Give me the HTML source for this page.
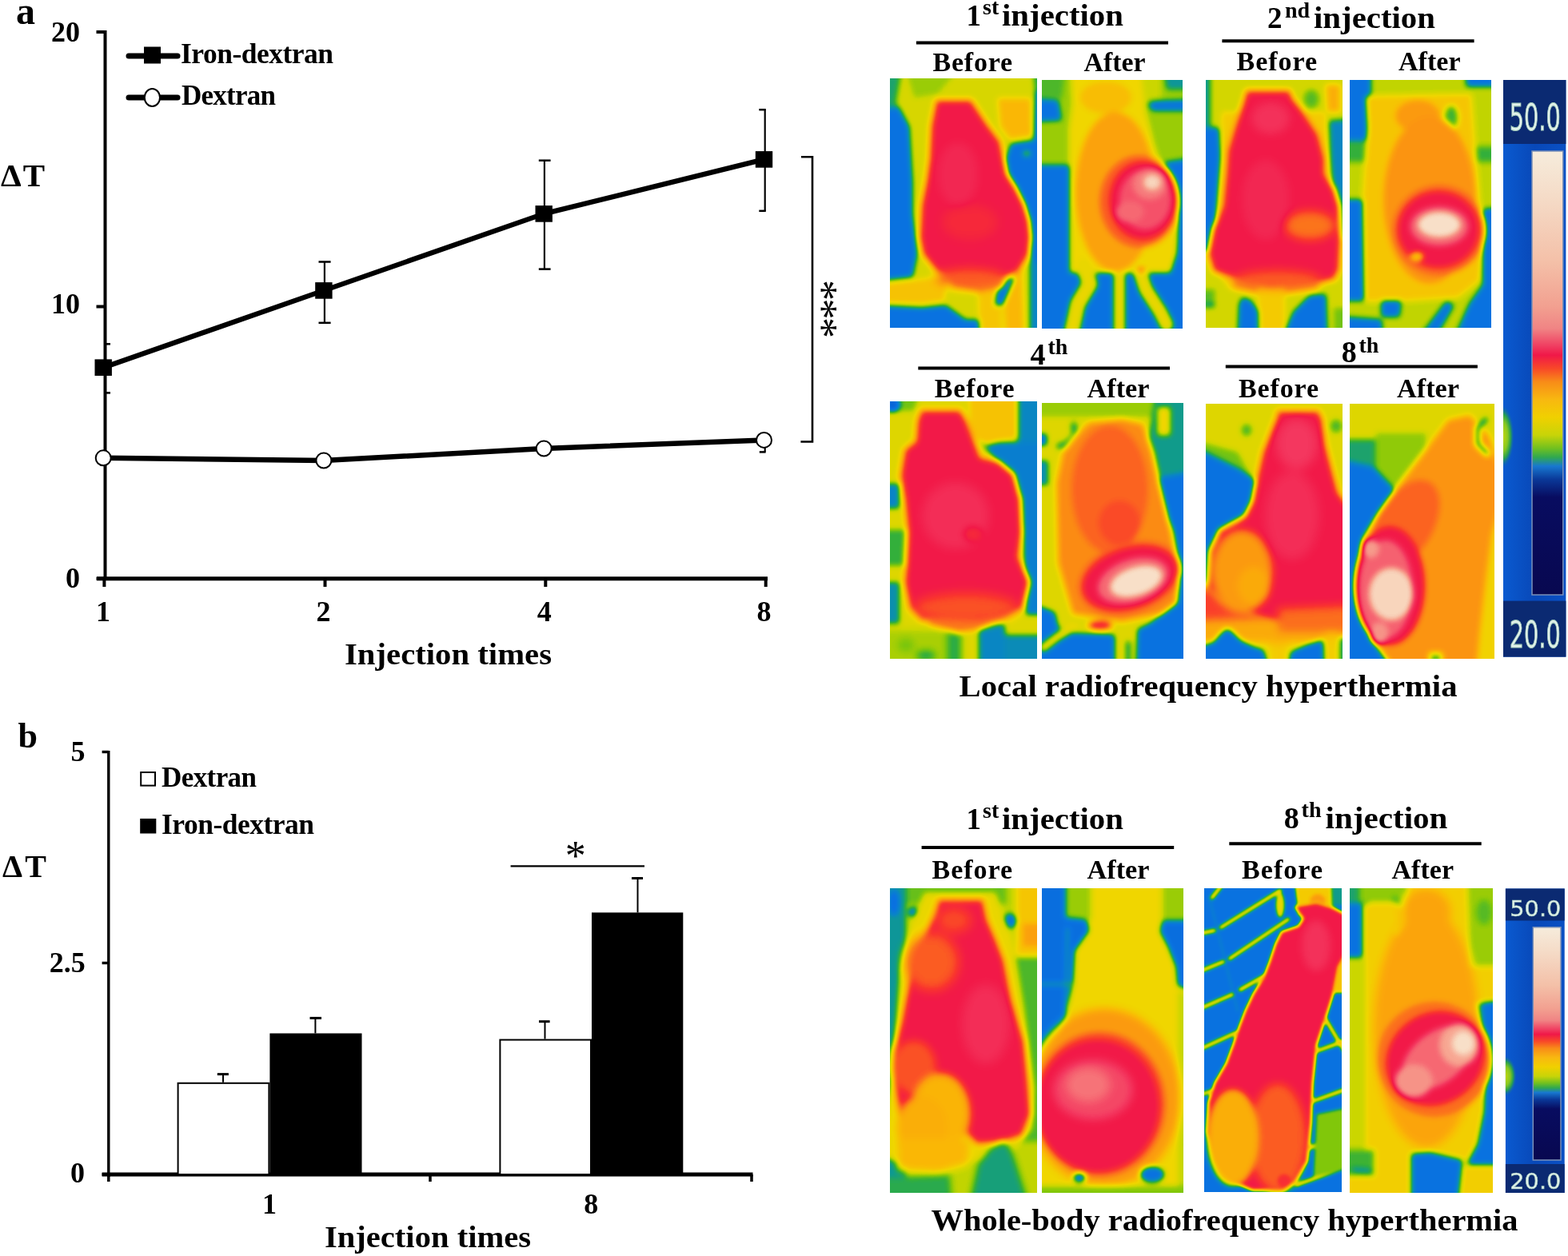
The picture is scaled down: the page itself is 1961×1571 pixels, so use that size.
<!DOCTYPE html>
<html><head><meta charset="utf-8"><title>Figure</title>
<style>html,body{margin:0;padding:0;background:#fff;overflow:hidden;} svg{display:block;}</style></head>
<body>
<svg width="1961" height="1571" viewBox="0 0 1961 1571">
<rect width="1961" height="1571" fill="#fff"/>
<text x="20" y="29.5" font-size="48" font-weight="bold" font-family="'Liberation Serif', serif" fill="#000">a</text>
<line x1="131.5" y1="38" x2="131.5" y2="726" stroke="#000" stroke-width="4" stroke-linecap="butt"/>
<line x1="120.5" y1="40" x2="131.5" y2="40" stroke="#000" stroke-width="4" stroke-linecap="butt"/>
<line x1="120.5" y1="383.5" x2="131.5" y2="383.5" stroke="#000" stroke-width="4" stroke-linecap="butt"/>
<line x1="120.5" y1="723.7" x2="131.5" y2="723.7" stroke="#000" stroke-width="4" stroke-linecap="butt"/>
<line x1="121" y1="723.7" x2="960" y2="723.7" stroke="#000" stroke-width="5" stroke-linecap="butt"/>
<line x1="130.4" y1="723.7" x2="130.4" y2="734" stroke="#000" stroke-width="4" stroke-linecap="butt"/>
<line x1="406.5" y1="723.7" x2="406.5" y2="734" stroke="#000" stroke-width="4" stroke-linecap="butt"/>
<line x1="682.3" y1="723.7" x2="682.3" y2="734" stroke="#000" stroke-width="4" stroke-linecap="butt"/>
<line x1="957.7" y1="723.7" x2="957.7" y2="734" stroke="#000" stroke-width="4" stroke-linecap="butt"/>
<text x="100" y="51.5" font-size="36" font-weight="bold" font-family="'Liberation Serif', serif" fill="#000" text-anchor="end">20</text>
<text x="100" y="392" font-size="36" font-weight="bold" font-family="'Liberation Serif', serif" fill="#000" text-anchor="end">10</text>
<text x="100" y="735" font-size="36" font-weight="bold" font-family="'Liberation Serif', serif" fill="#000" text-anchor="end">0</text>
<text x="129" y="776.7" font-size="36" font-weight="bold" font-family="'Liberation Serif', serif" fill="#000" text-anchor="middle">1</text>
<text x="404.5" y="776.7" font-size="36" font-weight="bold" font-family="'Liberation Serif', serif" fill="#000" text-anchor="middle">2</text>
<text x="680.7" y="776.7" font-size="36" font-weight="bold" font-family="'Liberation Serif', serif" fill="#000" text-anchor="middle">4</text>
<text x="955.5" y="776.7" font-size="36" font-weight="bold" font-family="'Liberation Serif', serif" fill="#000" text-anchor="middle">8</text>
<text x="431" y="830.6" font-size="37.5" font-weight="bold" font-family="'Liberation Serif', serif" fill="#000" textLength="259" lengthAdjust="spacingAndGlyphs">Injection times</text>
<text x="1" y="232.5" font-size="41" font-weight="bold" font-family="'Liberation Serif', serif" fill="#000" textLength="55" lengthAdjust="spacing">&#916;T</text>
<line x1="161" y1="70" x2="222" y2="70" stroke="#000" stroke-width="7" stroke-linecap="round"/>
<rect x="180" y="58.5" width="21" height="21" fill="#000"/>
<text x="226" y="79.3" font-size="35.5" font-weight="bold" font-family="'Liberation Serif', serif" fill="#000" textLength="191" lengthAdjust="spacing">Iron-dextran</text>
<line x1="161" y1="122" x2="222" y2="122" stroke="#000" stroke-width="7" stroke-linecap="round"/>
<ellipse cx="190.4" cy="122" rx="9.6" ry="11" fill="#fff" stroke="#000" stroke-width="2"/>
<text x="227" y="131.4" font-size="35" font-weight="bold" font-family="'Liberation Serif', serif" fill="#000" textLength="118" lengthAdjust="spacing">Dextran</text>
<line x1="405.9" y1="327.5" x2="405.9" y2="403.8" stroke="#000" stroke-width="2.2" stroke-linecap="butt"/>
<line x1="398.5" y1="327.5" x2="413.6" y2="327.5" stroke="#000" stroke-width="2.5" stroke-linecap="butt"/>
<line x1="398.5" y1="403.8" x2="413.6" y2="403.8" stroke="#000" stroke-width="2.5" stroke-linecap="butt"/>
<line x1="680.9" y1="200.7" x2="680.9" y2="336.6" stroke="#000" stroke-width="2.2" stroke-linecap="butt"/>
<line x1="673.8" y1="200.7" x2="688.6" y2="200.7" stroke="#000" stroke-width="2.5" stroke-linecap="butt"/>
<line x1="673.8" y1="336.6" x2="688.6" y2="336.6" stroke="#000" stroke-width="2.5" stroke-linecap="butt"/>
<line x1="956.7" y1="137.2" x2="956.7" y2="263.8" stroke="#000" stroke-width="2.2" stroke-linecap="butt"/>
<line x1="949.3" y1="137.2" x2="957.8" y2="137.2" stroke="#000" stroke-width="2.5" stroke-linecap="butt"/>
<line x1="949.3" y1="263.8" x2="957.8" y2="263.8" stroke="#000" stroke-width="2.5" stroke-linecap="butt"/>
<line x1="133" y1="430.3" x2="138" y2="430.3" stroke="#000" stroke-width="2.5" stroke-linecap="butt"/>
<line x1="133" y1="491.4" x2="138" y2="491.4" stroke="#000" stroke-width="2.5" stroke-linecap="butt"/>
<line x1="956.7" y1="555" x2="956.7" y2="565.4" stroke="#000" stroke-width="2.2" stroke-linecap="butt"/>
<line x1="949.8" y1="565.4" x2="957.6" y2="565.4" stroke="#000" stroke-width="2.5" stroke-linecap="butt"/>
<polyline points="129.2,459.7 404.9,363.4 680.2,267.4 955.5,199.4" fill="none" stroke="#000" stroke-width="6.3" stroke-linejoin="round"/>
<polyline points="129.2,572.8 404.9,576.0 680.2,561.0 955.5,550.4" fill="none" stroke="#000" stroke-width="6.5" stroke-linejoin="round"/>
<rect x="118.49999999999999" y="449.4" width="21.4" height="20.6" fill="#000"/>
<rect x="394.2" y="353.09999999999997" width="21.4" height="20.6" fill="#000"/>
<rect x="669.5" y="257.09999999999997" width="21.4" height="20.6" fill="#000"/>
<rect x="944.8" y="189.1" width="21.4" height="20.6" fill="#000"/>
<circle cx="129.2" cy="572.8" r="9.5" fill="#fff" stroke="#000" stroke-width="2"/>
<circle cx="404.9" cy="576.0" r="9.5" fill="#fff" stroke="#000" stroke-width="2"/>
<circle cx="680.2" cy="561.0" r="9.5" fill="#fff" stroke="#000" stroke-width="2"/>
<circle cx="955.5" cy="550.4" r="9.5" fill="#fff" stroke="#000" stroke-width="2"/>
<polyline points="1002,196.2 1016,196.2 1016,552.5 1001.4,552.5" fill="none" stroke="#000" stroke-width="2.6"/>
<text x="1011" y="350" font-size="52" font-weight="normal" font-family="'Liberation Serif', serif" transform="rotate(90 1011 350)" textLength="73" lengthAdjust="spacing">***</text>
<text x="22.5" y="935.4" font-size="44" font-weight="bold" font-family="'Liberation Serif', serif" fill="#000">b</text>
<line x1="135.8" y1="939" x2="135.8" y2="1472" stroke="#000" stroke-width="3.4" stroke-linecap="butt"/>
<line x1="127.6" y1="940.5" x2="135.8" y2="940.5" stroke="#000" stroke-width="3.4" stroke-linecap="butt"/>
<line x1="127.6" y1="1204.5" x2="135.8" y2="1204.5" stroke="#000" stroke-width="3.4" stroke-linecap="butt"/>
<line x1="127.6" y1="1469" x2="135.8" y2="1469" stroke="#000" stroke-width="3.4" stroke-linecap="butt"/>
<line x1="127.6" y1="1469" x2="941.5" y2="1469" stroke="#000" stroke-width="5" stroke-linecap="butt"/>
<line x1="135.8" y1="1469" x2="135.8" y2="1478" stroke="#000" stroke-width="3.5" stroke-linecap="butt"/>
<line x1="538" y1="1469" x2="538" y2="1478" stroke="#000" stroke-width="3.5" stroke-linecap="butt"/>
<line x1="940" y1="1469" x2="940" y2="1478" stroke="#000" stroke-width="3.5" stroke-linecap="butt"/>
<text x="106.5" y="951.7" font-size="36" font-weight="bold" font-family="'Liberation Serif', serif" fill="#000" text-anchor="end">5</text>
<text x="106.7" y="1216" font-size="36" font-weight="bold" font-family="'Liberation Serif', serif" fill="#000" text-anchor="end">2.5</text>
<text x="106" y="1478.5" font-size="36" font-weight="bold" font-family="'Liberation Serif', serif" fill="#000" text-anchor="end">0</text>
<text x="337" y="1518.4" font-size="36" font-weight="bold" font-family="'Liberation Serif', serif" fill="#000" text-anchor="middle">1</text>
<text x="739.2" y="1518.4" font-size="36" font-weight="bold" font-family="'Liberation Serif', serif" fill="#000" text-anchor="middle">8</text>
<text x="406" y="1560" font-size="37" font-weight="bold" font-family="'Liberation Serif', serif" fill="#000" textLength="258" lengthAdjust="spacingAndGlyphs">Injection times</text>
<text x="3" y="1096.7" font-size="40" font-weight="bold" font-family="'Liberation Serif', serif" fill="#000" textLength="55" lengthAdjust="spacing">&#916;T</text>
<rect x="176.2" y="966" width="17.8" height="16.6" fill="#fff" stroke="#000" stroke-width="2"/>
<text x="202" y="983.6" font-size="35" font-weight="bold" font-family="'Liberation Serif', serif" fill="#000" textLength="119" lengthAdjust="spacing">Dextran</text>
<rect x="175.2" y="1023.9" width="20.1" height="18.6" fill="#000"/>
<text x="202" y="1042.5" font-size="35.5" font-weight="bold" font-family="'Liberation Serif', serif" fill="#000" textLength="191" lengthAdjust="spacing">Iron-dextran</text>
<line x1="279" y1="1343.6" x2="279" y2="1353.8" stroke="#000" stroke-width="2" stroke-linecap="butt"/>
<line x1="271.8" y1="1343.6" x2="285.9" y2="1343.6" stroke="#000" stroke-width="3" stroke-linecap="butt"/>
<line x1="394.4" y1="1273.4" x2="394.4" y2="1292.5" stroke="#000" stroke-width="2" stroke-linecap="butt"/>
<line x1="387.5" y1="1273.4" x2="402" y2="1273.4" stroke="#000" stroke-width="3" stroke-linecap="butt"/>
<line x1="681.5" y1="1277.7" x2="681.5" y2="1299.6" stroke="#000" stroke-width="2" stroke-linecap="butt"/>
<line x1="674" y1="1277.7" x2="687.6" y2="1277.7" stroke="#000" stroke-width="3" stroke-linecap="butt"/>
<line x1="797.5" y1="1098.5" x2="797.5" y2="1141.4" stroke="#000" stroke-width="2" stroke-linecap="butt"/>
<line x1="790" y1="1098.5" x2="804" y2="1098.5" stroke="#000" stroke-width="3" stroke-linecap="butt"/>
<rect x="222.6" y="1354.8" width="113.79999999999998" height="114.20000000000005" fill="#fff" stroke="#000" stroke-width="2"/>
<rect x="337.4" y="1292.5" width="115.10000000000002" height="176.5" fill="#000"/>
<rect x="625.4" y="1300.6" width="113.60000000000002" height="168.4000000000001" fill="#fff" stroke="#000" stroke-width="2"/>
<rect x="740" y="1141.4" width="114.29999999999995" height="327.5999999999999" fill="#000"/>
<line x1="638.6" y1="1083.3" x2="806" y2="1083.3" stroke="#000" stroke-width="2.2" stroke-linecap="butt"/>
<text x="719.8" y="1088" font-size="52" font-weight="normal" font-family="'Liberation Serif', serif" text-anchor="middle">*</text>
<text x="1208.5" y="32.2" font-size="37" font-weight="bold" font-family="'Liberation Serif', serif" fill="#000">1</text>
<text x="1229" y="18.4" font-size="28" font-weight="bold" font-family="'Liberation Serif', serif" fill="#000">st</text>
<text x="1253" y="32.2" font-size="38" font-weight="bold" font-family="'Liberation Serif', serif" fill="#000" textLength="152" lengthAdjust="spacingAndGlyphs">injection</text>
<line x1="1145.9" y1="53.4" x2="1461" y2="53.4" stroke="#000" stroke-width="4" stroke-linecap="butt"/>
<text x="1166.5" y="88.7" font-size="34" font-weight="bold" font-family="'Liberation Serif', serif" fill="#000" textLength="99.5" lengthAdjust="spacing">Before</text>
<text x="1355.5" y="88.7" font-size="34" font-weight="bold" font-family="'Liberation Serif', serif" fill="#000" textLength="77" lengthAdjust="spacingAndGlyphs">After</text>
<text x="1585" y="34.8" font-size="37" font-weight="bold" font-family="'Liberation Serif', serif" fill="#000">2</text>
<text x="1607" y="21.6" font-size="28" font-weight="bold" font-family="'Liberation Serif', serif" fill="#000">nd</text>
<text x="1643" y="34.8" font-size="38" font-weight="bold" font-family="'Liberation Serif', serif" fill="#000" textLength="152" lengthAdjust="spacingAndGlyphs">injection</text>
<line x1="1528.4" y1="51.2" x2="1843.6" y2="51.2" stroke="#000" stroke-width="4" stroke-linecap="butt"/>
<text x="1546.5" y="88.4" font-size="34" font-weight="bold" font-family="'Liberation Serif', serif" fill="#000" textLength="100.5" lengthAdjust="spacing">Before</text>
<text x="1749" y="88.4" font-size="34" font-weight="bold" font-family="'Liberation Serif', serif" fill="#000" textLength="77.5" lengthAdjust="spacingAndGlyphs">After</text>
<text x="1288.5" y="455.7" font-size="38" font-weight="bold" font-family="'Liberation Serif', serif" fill="#000">4</text>
<text x="1310.5" y="443" font-size="28" font-weight="bold" font-family="'Liberation Serif', serif" fill="#000">th</text>
<line x1="1148.3" y1="460.4" x2="1463" y2="460.4" stroke="#000" stroke-width="4" stroke-linecap="butt"/>
<text x="1168.7" y="497.1" font-size="34" font-weight="bold" font-family="'Liberation Serif', serif" fill="#000" textLength="100" lengthAdjust="spacing">Before</text>
<text x="1359.5" y="497.1" font-size="34" font-weight="bold" font-family="'Liberation Serif', serif" fill="#000" textLength="78" lengthAdjust="spacingAndGlyphs">After</text>
<text x="1677.8" y="453" font-size="38" font-weight="bold" font-family="'Liberation Serif', serif" fill="#000">8</text>
<text x="1699.5" y="441" font-size="28" font-weight="bold" font-family="'Liberation Serif', serif" fill="#000">th</text>
<line x1="1532.8" y1="458.5" x2="1847.9" y2="458.5" stroke="#000" stroke-width="4" stroke-linecap="butt"/>
<text x="1549" y="497" font-size="34" font-weight="bold" font-family="'Liberation Serif', serif" fill="#000" textLength="100" lengthAdjust="spacing">Before</text>
<text x="1747" y="497" font-size="34" font-weight="bold" font-family="'Liberation Serif', serif" fill="#000" textLength="78" lengthAdjust="spacingAndGlyphs">After</text>
<text x="1199.5" y="870.9" font-size="37.5" font-weight="bold" font-family="'Liberation Serif', serif" fill="#000" textLength="623" lengthAdjust="spacingAndGlyphs">Local radiofrequency hyperthermia</text>
<text x="1208.5" y="1036.5" font-size="37" font-weight="bold" font-family="'Liberation Serif', serif" fill="#000">1</text>
<text x="1229" y="1022.5" font-size="28" font-weight="bold" font-family="'Liberation Serif', serif" fill="#000">st</text>
<text x="1253" y="1036.5" font-size="38" font-weight="bold" font-family="'Liberation Serif', serif" fill="#000" textLength="152" lengthAdjust="spacingAndGlyphs">injection</text>
<line x1="1152.6" y1="1060" x2="1468.2" y2="1060" stroke="#000" stroke-width="4" stroke-linecap="butt"/>
<text x="1165.5" y="1099.1" font-size="34" font-weight="bold" font-family="'Liberation Serif', serif" fill="#000" textLength="100.5" lengthAdjust="spacing">Before</text>
<text x="1359.5" y="1099.1" font-size="34" font-weight="bold" font-family="'Liberation Serif', serif" fill="#000" textLength="78" lengthAdjust="spacingAndGlyphs">After</text>
<text x="1605.7" y="1036.1" font-size="38" font-weight="bold" font-family="'Liberation Serif', serif" fill="#000">8</text>
<text x="1627.6" y="1022.4" font-size="28" font-weight="bold" font-family="'Liberation Serif', serif" fill="#000">th</text>
<text x="1657.5" y="1036.1" font-size="38" font-weight="bold" font-family="'Liberation Serif', serif" fill="#000" textLength="153" lengthAdjust="spacingAndGlyphs">injection</text>
<line x1="1537.3" y1="1055.3" x2="1852.7" y2="1055.3" stroke="#000" stroke-width="4" stroke-linecap="butt"/>
<text x="1553" y="1099.3" font-size="34" font-weight="bold" font-family="'Liberation Serif', serif" fill="#000" textLength="101" lengthAdjust="spacing">Before</text>
<text x="1740.5" y="1099.3" font-size="34" font-weight="bold" font-family="'Liberation Serif', serif" fill="#000" textLength="77.5" lengthAdjust="spacingAndGlyphs">After</text>
<text x="1164.5" y="1539" font-size="38" font-weight="bold" font-family="'Liberation Serif', serif" fill="#000" textLength="734" lengthAdjust="spacingAndGlyphs">Whole-body radiofrequency hyperthermia</text>
<defs><linearGradient id="cba" x1="0" y1="0" x2="0" y2="1"><stop offset="0.0" stop-color="#f6ecdc"/><stop offset="0.1" stop-color="#f5dcc8"/><stop offset="0.25" stop-color="#f4c0a8"/><stop offset="0.35" stop-color="#f2a090"/><stop offset="0.4" stop-color="#f08484"/><stop offset="0.44" stop-color="#f03c60"/><stop offset="0.46" stop-color="#f01848"/><stop offset="0.49" stop-color="#f84828"/><stop offset="0.52" stop-color="#f88c18"/><stop offset="0.56" stop-color="#f8b810"/><stop offset="0.6" stop-color="#f0d000"/><stop offset="0.64" stop-color="#c8d408"/><stop offset="0.67" stop-color="#70c020"/><stop offset="0.69" stop-color="#30a850"/><stop offset="0.71" stop-color="#1878d0"/><stop offset="0.74" stop-color="#0a3898"/><stop offset="0.78" stop-color="#080c60"/><stop offset="1.0" stop-color="#080850"/></linearGradient><linearGradient id="cbab" x1="0" y1="0" x2="1" y2="0"><stop offset="0" stop-color="#0a5ad0"/><stop offset="0.5" stop-color="#0848b8"/><stop offset="1" stop-color="#0a50c4"/></linearGradient></defs>
<rect x="1880" y="100" width="78.40000000000009" height="721.6" fill="url(#cbab)"/>
<rect x="1880" y="100" width="78.40000000000009" height="80" fill="#0b2a72"/>
<rect x="1880" y="751.6" width="78.40000000000009" height="70" fill="#0b2a72"/>
<rect x="1916" y="189" width="38.799999999999955" height="555" fill="url(#cba)" stroke="#7a90b8" stroke-width="1.5"/>
<text x="0" y="0" font-size="26" font-family="'DejaVu Sans', 'Liberation Sans', sans-serif" fill="#e4f2ec" stroke="#9fc8b8" stroke-width="0.6" text-anchor="middle" textLength="64" lengthAdjust="spacingAndGlyphs" transform="translate(1919.7 163) scale(1 1.8)">50.0</text>
<text x="0" y="0" font-size="26" font-family="'DejaVu Sans', 'Liberation Sans', sans-serif" fill="#e4f2ec" stroke="#9fc8b8" stroke-width="0.6" text-anchor="middle" textLength="64" lengthAdjust="spacingAndGlyphs" transform="translate(1919.7 810.1) scale(1 1.8)">20.0</text>
<defs><linearGradient id="cbb" x1="0" y1="0" x2="0" y2="1"><stop offset="0.0" stop-color="#f6ecdc"/><stop offset="0.1" stop-color="#f5dcc8"/><stop offset="0.25" stop-color="#f4c0a8"/><stop offset="0.35" stop-color="#f2a090"/><stop offset="0.4" stop-color="#f08484"/><stop offset="0.44" stop-color="#f03c60"/><stop offset="0.46" stop-color="#f01848"/><stop offset="0.49" stop-color="#f84828"/><stop offset="0.52" stop-color="#f88c18"/><stop offset="0.56" stop-color="#f8b810"/><stop offset="0.6" stop-color="#f0d000"/><stop offset="0.64" stop-color="#c8d408"/><stop offset="0.67" stop-color="#70c020"/><stop offset="0.69" stop-color="#30a850"/><stop offset="0.71" stop-color="#1878d0"/><stop offset="0.74" stop-color="#0a3898"/><stop offset="0.78" stop-color="#080c60"/><stop offset="1.0" stop-color="#080850"/></linearGradient><linearGradient id="cbbb" x1="0" y1="0" x2="1" y2="0"><stop offset="0" stop-color="#0a5ad0"/><stop offset="0.5" stop-color="#0848b8"/><stop offset="1" stop-color="#0a50c4"/></linearGradient></defs>
<rect x="1882.9" y="1111.5" width="73.79999999999995" height="380.5" fill="url(#cbbb)"/>
<rect x="1882.9" y="1111.5" width="73.79999999999995" height="40" fill="#0b2a72"/>
<rect x="1882.9" y="1456" width="73.79999999999995" height="36" fill="#0b2a72"/>
<rect x="1917.3" y="1159.8" width="34.700000000000045" height="291.20000000000005" fill="url(#cbb)" stroke="#7a90b8" stroke-width="1.5"/>
<text x="0" y="0" font-size="26" font-family="'DejaVu Sans', 'Liberation Sans', sans-serif" fill="#e4f2ec" stroke="#9fc8b8" stroke-width="0.6" text-anchor="middle" textLength="64" lengthAdjust="spacingAndGlyphs" transform="translate(1920.3000000000002 1145.8) scale(1 1.0)">50.0</text>
<text x="0" y="0" font-size="26" font-family="'DejaVu Sans', 'Liberation Sans', sans-serif" fill="#e4f2ec" stroke="#9fc8b8" stroke-width="0.6" text-anchor="middle" textLength="64" lengthAdjust="spacingAndGlyphs" transform="translate(1920.3000000000002 1486.8) scale(1 1.0)">20.0</text>
<defs><radialGradient id="bulge"><stop offset="0" stop-color="#c8d810"/><stop offset="0.45" stop-color="#88c820"/><stop offset="0.7" stop-color="#28a050"/><stop offset="1" stop-color="#0a56c8" stop-opacity="0"/></radialGradient><clipPath id="cbac"><rect x="1880" y="100" width="36" height="722"/></clipPath><clipPath id="cbbc"><rect x="1882.9" y="1111.5" width="34" height="380"/></clipPath></defs>
<ellipse cx="1879" cy="546" rx="15" ry="40" fill="url(#bulge)" clip-path="url(#cbac)"/>
<ellipse cx="1882" cy="1346" rx="15" ry="26" fill="url(#bulge)" clip-path="url(#cbbc)"/>
<defs><filter id="th0" x="0" y="0" width="1" height="1" filterUnits="objectBoundingBox" color-interpolation-filters="sRGB"><feGaussianBlur stdDeviation="2.0" edgeMode="duplicate"/><feComponentTransfer><feFuncR type="table" tableValues="0.031 0.032 0.033 0.034 0.035 0.036 0.037 0.038 0.039 0.039 0.039 0.039 0.039 0.039 0.039 0.039 0.044 0.049 0.053 0.058 0.063 0.089 0.116 0.143 0.169 0.196 0.248 0.301 0.353 0.405 0.458 0.510 0.559 0.608 0.657 0.706 0.755 0.804 0.827 0.850 0.873 0.895 0.918 0.941 0.947 0.952 0.958 0.964 0.969 0.975 0.980 0.982 0.983 0.984 0.986 0.987 0.988 0.988 0.988 0.988 0.988 0.988 0.988 0.987 0.986 0.984 0.983 0.982 0.980 0.975 0.970 0.965 0.959 0.954 0.949 0.950 0.952 0.953 0.954 0.956 0.957 0.958 0.959 0.961 0.962 0.963 0.965 0.965 0.966 0.967 0.967 0.968 0.969 0.969 0.970 0.971 0.972 0.973 0.975 0.978 0.980"/><feFuncG type="table" tableValues="0.392 0.400 0.407 0.414 0.422 0.429 0.436 0.444 0.451 0.462 0.473 0.485 0.496 0.507 0.518 0.529 0.545 0.561 0.576 0.592 0.608 0.624 0.639 0.655 0.671 0.686 0.703 0.719 0.735 0.752 0.768 0.784 0.794 0.804 0.814 0.824 0.833 0.843 0.843 0.843 0.843 0.843 0.843 0.843 0.826 0.810 0.793 0.776 0.759 0.742 0.725 0.706 0.686 0.667 0.647 0.627 0.608 0.578 0.549 0.520 0.490 0.461 0.431 0.395 0.359 0.324 0.288 0.252 0.216 0.196 0.176 0.157 0.137 0.118 0.098 0.118 0.137 0.157 0.176 0.196 0.216 0.248 0.281 0.314 0.346 0.379 0.412 0.451 0.490 0.529 0.569 0.608 0.647 0.686 0.725 0.765 0.804 0.843 0.876 0.908 0.941"/><feFuncB type="table" tableValues="0.843 0.848 0.853 0.858 0.863 0.868 0.873 0.877 0.882 0.866 0.849 0.832 0.815 0.798 0.782 0.765 0.722 0.678 0.635 0.592 0.549 0.486 0.424 0.361 0.298 0.235 0.203 0.170 0.137 0.105 0.072 0.039 0.033 0.026 0.020 0.013 0.007 0.000 0.000 0.000 0.000 0.000 0.000 0.000 0.003 0.006 0.008 0.011 0.014 0.017 0.020 0.026 0.033 0.039 0.046 0.052 0.059 0.069 0.078 0.088 0.098 0.108 0.118 0.127 0.137 0.147 0.157 0.167 0.176 0.194 0.212 0.229 0.247 0.265 0.282 0.297 0.312 0.327 0.342 0.358 0.373 0.386 0.399 0.412 0.425 0.438 0.451 0.471 0.490 0.510 0.529 0.549 0.569 0.604 0.639 0.675 0.710 0.745 0.784 0.824 0.863"/><feFuncA type="identity"/></feComponentTransfer></filter><filter id="th1" x="0" y="0" width="1" height="1" filterUnits="objectBoundingBox" color-interpolation-filters="sRGB"><feGaussianBlur stdDeviation="3.6" edgeMode="duplicate"/><feComponentTransfer><feFuncR type="table" tableValues="0.031 0.032 0.033 0.034 0.035 0.036 0.037 0.038 0.039 0.039 0.039 0.039 0.039 0.039 0.039 0.039 0.044 0.049 0.053 0.058 0.063 0.089 0.116 0.143 0.169 0.196 0.248 0.301 0.353 0.405 0.458 0.510 0.559 0.608 0.657 0.706 0.755 0.804 0.827 0.850 0.873 0.895 0.918 0.941 0.947 0.952 0.958 0.964 0.969 0.975 0.980 0.982 0.983 0.984 0.986 0.987 0.988 0.988 0.988 0.988 0.988 0.988 0.988 0.987 0.986 0.984 0.983 0.982 0.980 0.975 0.970 0.965 0.959 0.954 0.949 0.950 0.952 0.953 0.954 0.956 0.957 0.958 0.959 0.961 0.962 0.963 0.965 0.965 0.966 0.967 0.967 0.968 0.969 0.969 0.970 0.971 0.972 0.973 0.975 0.978 0.980"/><feFuncG type="table" tableValues="0.392 0.400 0.407 0.414 0.422 0.429 0.436 0.444 0.451 0.462 0.473 0.485 0.496 0.507 0.518 0.529 0.545 0.561 0.576 0.592 0.608 0.624 0.639 0.655 0.671 0.686 0.703 0.719 0.735 0.752 0.768 0.784 0.794 0.804 0.814 0.824 0.833 0.843 0.843 0.843 0.843 0.843 0.843 0.843 0.826 0.810 0.793 0.776 0.759 0.742 0.725 0.706 0.686 0.667 0.647 0.627 0.608 0.578 0.549 0.520 0.490 0.461 0.431 0.395 0.359 0.324 0.288 0.252 0.216 0.196 0.176 0.157 0.137 0.118 0.098 0.118 0.137 0.157 0.176 0.196 0.216 0.248 0.281 0.314 0.346 0.379 0.412 0.451 0.490 0.529 0.569 0.608 0.647 0.686 0.725 0.765 0.804 0.843 0.876 0.908 0.941"/><feFuncB type="table" tableValues="0.843 0.848 0.853 0.858 0.863 0.868 0.873 0.877 0.882 0.866 0.849 0.832 0.815 0.798 0.782 0.765 0.722 0.678 0.635 0.592 0.549 0.486 0.424 0.361 0.298 0.235 0.203 0.170 0.137 0.105 0.072 0.039 0.033 0.026 0.020 0.013 0.007 0.000 0.000 0.000 0.000 0.000 0.000 0.000 0.003 0.006 0.008 0.011 0.014 0.017 0.020 0.026 0.033 0.039 0.046 0.052 0.059 0.069 0.078 0.088 0.098 0.108 0.118 0.127 0.137 0.147 0.157 0.167 0.176 0.194 0.212 0.229 0.247 0.265 0.282 0.297 0.312 0.327 0.342 0.358 0.373 0.386 0.399 0.412 0.425 0.438 0.451 0.471 0.490 0.510 0.529 0.549 0.569 0.604 0.639 0.675 0.710 0.745 0.784 0.824 0.863"/><feFuncA type="identity"/></feComponentTransfer></filter></defs>
<svg x="1113" y="98" width="184" height="312" viewBox="0 0 184 312" overflow="hidden"><g filter="url(#th1)"><rect x="-20" y="-20" width="224" height="352" fill="#141414"/><polygon points="-15,-15 199,-15 199,14 -15,40" fill="#383838"/><polygon points="18,-15 176,-15 180,20 178,76 150,80 143,100 150,140 170,180 176,240 178,327 140,327 120,300 95,300 70,282 40,285 -15,282 -15,255 30,250 36,220 30,170 30,130 26,60 10,30" fill="#636363" stroke="#636363" stroke-width="4" stroke-linejoin="round"/><polygon points="18,-15 90,-15 60,20 30,25" fill="#545454"/><polygon points="135,25 176,25 178,72 150,76 138,60" fill="#808080"/><polygon points="-15,258 50,250 70,255 68,278 40,282 -15,280" fill="#7a7a7a"/><polygon points="110,255 140,255 140,327 112,327" fill="#787878"/><polygon points="140,238 165,236 168,327 145,327" fill="#808080"/><polygon points="131,284 134,266 150,246 156,250 141,284" fill="#141414"/><polygon points="175,230 199,230 199,327 175,327" fill="#242424"/><polygon points="60,232 150,232 140,262 112,268 80,262" fill="#999999"/><polygon points="60,30 100,30 104,36 120,60 135,80 139,100 143,120 155,139 165,159 171,179 173,199 171,219 159,239 139,249 112,253 80,249 60,239 44,219 40,199 42,159 48,129 52,100 54,60 58,40" fill="#999999" stroke="#999999" stroke-width="9" stroke-linejoin="round"/><polygon points="60,30 100,30 104,36 120,60 135,80 139,100 143,120 155,139 165,159 171,179 173,199 171,219 159,239 139,249 112,253 80,249 60,239 44,219 40,199 42,159 48,129 52,100 54,60 58,40" fill="#bdbdbd"/><g filter="url(#soft5)"><ellipse cx="100" cy="180" rx="35" ry="22" fill="#b5b5b5"/><ellipse cx="85" cy="120" rx="25" ry="40" fill="#c4c4c4"/><ellipse cx="100" cy="250" rx="45" ry="12" fill="#a3a3a3"/></g><ellipse cx="171" cy="94" rx="5" ry="4" fill="#525252"/></g></svg>
<svg x="1303" y="100" width="176" height="311" viewBox="0 0 176 311" overflow="hidden"><g filter="url(#th1)"><rect x="-20" y="-20" width="216" height="351" fill="#141414"/><rect x="-15" y="-15" width="206" height="122" fill="#545454"/><polygon points="-15,-15 30,-15 25,24 -15,24" fill="#454545"/><polygon points="-15,24 20,26 24,50 -15,52" fill="#141414"/><polygon points="132,27 191,25 191,38 138,38" fill="#141414"/><polygon points="152,-15 191,-15 191,12 156,12" fill="#303030"/><polygon points="110,-15 150,-15 150,24 128,30" fill="#5e5e5e"/><polygon points="-15,107 34,107 38,200 34,239 -15,240" fill="#141414"/><polygon points="38,-15 122,-15 128,40 138,80 146,104 158,124 167,150 170,180 168,215 160,240 36,240 36,200 36,107 36,60 40,30" fill="#6e6e6e" stroke="#6e6e6e" stroke-width="3" stroke-linejoin="round"/><polygon points="150,104 191,98 191,326 168,326 165,300 170,200 172,150 162,120" fill="#141414"/><polyline points="52,232 60,255 45,280 35,326" fill="none" stroke="#6b6b6b" stroke-width="20" stroke-linecap="round" stroke-linejoin="round"/><polyline points="97,236 97,326" fill="none" stroke="#6b6b6b" stroke-width="15" stroke-linecap="round" stroke-linejoin="round"/><polyline points="120,232 130,262 148,290 156,306" fill="none" stroke="#6b6b6b" stroke-width="18" stroke-linecap="round" stroke-linejoin="round"/><ellipse cx="80" cy="22" rx="32" ry="20" fill="#7d7d7d"/><ellipse cx="92" cy="140" rx="50" ry="100" fill="#8b8b8b"/><ellipse cx="122" cy="152" rx="50" ry="58" fill="#a3a3a3"/><ellipse cx="126" cy="151" rx="41" ry="48" fill="#bdbdbd"/><ellipse cx="129" cy="150" rx="33" ry="38" fill="#d4d4d4"/><ellipse cx="135" cy="130" rx="22" ry="20" fill="#e0e0e0"/><ellipse cx="110" cy="165" rx="18" ry="14" fill="#dbdbdb"/><ellipse cx="138" cy="128" rx="11" ry="10" fill="#f7f7f7"/><ellipse cx="124" cy="237" rx="4" ry="3" fill="#b2b2b2"/></g></svg>
<svg x="1508" y="100" width="171" height="310" viewBox="0 0 171 310" overflow="hidden"><g filter="url(#th1)"><rect x="-20" y="-20" width="211" height="350" fill="#141414"/><rect x="-15" y="-15" width="201" height="340" fill="#616161"/><polygon points="-15,59 16,60 20,120 14,200 4,215 -15,215" fill="#141414"/><polygon points="-15,-15 6,-15 6,59 -15,59" fill="#303030"/><polygon points="-15,262 10,262 11,284 -15,284" fill="#1f1f1f"/><polygon points="154,51 186,48 186,200 158,197 160,150 156,100" fill="#262626"/><ellipse cx="132" cy="24" rx="10" ry="12" fill="#474747"/><polygon points="150,6 168,6 168,40 152,40" fill="#858585"/><polygon points="20,40 150,40 160,200 166,250 120,262 30,262 8,230 18,100" fill="#757575"/><polygon points="40,325 42,280 46,272 56,276 66,290 68,325" fill="#141414"/><polygon points="95,325 110,290 130,270 150,268 152,325" fill="#141414"/><polygon points="160,285 186,285 186,325 160,325" fill="#4c4c4c"/><polygon points="-15,262 12,262 10,280 -15,282" fill="#474747"/><polygon points="30,237 148,237 140,262 99,268 65,268 35,262" fill="#8f8f8f"/><polygon points="65,256 99,256 99,325 66,325" fill="#757575"/><polygon points="53,16 103,16 106,24 118,39 138,69 146,99 146,118 158,138 164,158 166,197 164,237 158,247 138,252 79,256 39,247 12,237 6,217 12,187 24,158 28,118 30,89 39,59 49,30" fill="#999999" stroke="#999999" stroke-width="9" stroke-linejoin="round"/><polygon points="53,16 103,16 106,24 118,39 138,69 146,99 146,118 158,138 164,158 166,197 164,237 158,247 138,252 79,256 39,247 12,237 6,217 12,187 24,158 28,118 30,89 39,59 49,30" fill="#bdbdbd"/><g filter="url(#soft5)"><ellipse cx="81" cy="48" rx="24" ry="20" fill="#c9c9c9"/><ellipse cx="130" cy="182" rx="32" ry="18" fill="#9c9c9c"/><ellipse cx="90" cy="250" rx="55" ry="12" fill="#a3a3a3"/><ellipse cx="75" cy="150" rx="30" ry="50" fill="#c4c4c4"/></g></g></svg>
<svg x="1688" y="100" width="177" height="310" viewBox="0 0 177 310" overflow="hidden"><g filter="url(#th1)"><rect x="-20" y="-20" width="217" height="350" fill="#141414"/><rect x="-15" y="-15" width="207" height="340" fill="#5c5c5c"/><polygon points="-15,-15 26,-15 26,75 -15,75" fill="#141414"/><polygon points="-15,75 26,75 26,103 -15,103" fill="#404040"/><polygon points="-15,150 18,150 20,276 -15,276" fill="#141414"/><polygon points="146,-15 192,-15 192,8 146,8" fill="#141414"/><polygon points="154,83 192,83 192,103 154,103" fill="#404040"/><polygon points="166,162 192,160 192,325 130,325 150,280 167,256" fill="#141414"/><polygon points="-15,296 40,300 40,325 -15,325" fill="#141414"/><polygon points="22,22 150,20 160,150 166,200 160,250 135,270 60,275 20,275 18,150 24,60" fill="#787878" stroke="#787878" stroke-width="4" stroke-linejoin="round"/><ellipse cx="127" cy="47" rx="9" ry="15" fill="#424242"/><polygon points="40,276 64,276 62,296 40,296" fill="#141414"/><polygon points="85,325 121,277 130,282 105,325" fill="#141414"/><ellipse cx="85" cy="45" rx="28" ry="20" fill="#8f8f8f"/><ellipse cx="100" cy="150" rx="58" ry="105" fill="#919191"/><ellipse cx="112" cy="188" rx="58" ry="56" fill="#a3a3a3"/><ellipse cx="111" cy="187" rx="50" ry="47" fill="#bdbdbd"/><ellipse cx="112" cy="183" rx="37" ry="25" fill="#dbdbdb"/><ellipse cx="112" cy="181" rx="27" ry="16" fill="#fafafa"/><ellipse cx="84" cy="221" rx="8" ry="5" fill="#737373"/></g></svg>
<svg x="1113" y="502" width="184" height="322" viewBox="0 0 184 322" overflow="hidden"><g filter="url(#th1)"><rect x="-20" y="-20" width="224" height="362" fill="#141414"/><rect x="-15" y="-15" width="214" height="352" fill="#666666"/><polygon points="-15,-15 40,-15 30,12 -15,14" fill="#4c4c4c"/><ellipse cx="3" cy="4" rx="9" ry="9" fill="#000000"/><polygon points="-15,103 12,103 12,134 -15,134" fill="#242424"/><polygon points="-15,160 20,160 20,206 -15,206" fill="#404040"/><polygon points="-15,226 12,226 12,278 -15,278" fill="#2b2b2b"/><polygon points="160,-15 199,-15 199,51 160,51" fill="#262626"/><polygon points="113,51 199,51 199,267 170,267 168,200 165,120 140,80" fill="#1f1f1f"/><polygon points="111,278 144,278 144,337 111,337" fill="#262626"/><polygon points="144,292 199,292 199,337 144,337" fill="#292929"/><g filter="url(#soft3)"><polygon points="-15,285 70,285 70,337 -15,337" fill="#575757"/><polygon points="71,286 90,286 90,337 71,337" fill="#3d3d3d"/><ellipse cx="45" cy="318" rx="12" ry="6" fill="#383838"/><ellipse cx="20" cy="305" rx="10" ry="8" fill="#4c4c4c"/></g><polygon points="100,-15 160,-15 160,45 120,55 100,40" fill="#7a7a7a"/><polygon points="27,240 160,240 145,272 113,285 86,290 50,280" fill="#999999"/><polygon points="41,14 86,14 93,25 103,51 111,72 134,78 152,93 160,123 162,164 158,195 171,226 164,257 144,267 113,273 72,271 41,271 27,257 21,226 23,206 25,164 21,123 16,93 21,62 35,51 37,25" fill="#999999" stroke="#999999" stroke-width="9" stroke-linejoin="round"/><polygon points="41,14 86,14 93,25 103,51 111,72 134,78 152,93 160,123 162,164 158,195 171,226 164,257 144,267 113,273 72,271 41,271 27,257 21,226 23,206 25,164 21,123 16,93 21,62 35,51 37,25" fill="#bdbdbd"/><g filter="url(#soft6)"><ellipse cx="82" cy="143" rx="42" ry="42" fill="#c7c7c7"/><ellipse cx="95" cy="258" rx="65" ry="18" fill="#a6a6a6"/></g><g filter="url(#soft2)"><ellipse cx="104" cy="166" rx="12" ry="10" fill="#b5b5b5"/></g></g></svg>
<svg x="1303" y="504" width="177" height="320" viewBox="0 0 177 320" overflow="hidden"><g filter="url(#th1)"><rect x="-20" y="-20" width="217" height="360" fill="#141414"/><rect x="-15" y="-15" width="207" height="350" fill="#666666"/><polygon points="-15,-15 143,-15 143,18 -15,18" fill="#545454"/><polygon points="143,-15 192,-15 192,103 143,103 130,60" fill="#333333"/><polygon points="145,6 160,6 160,40 145,40" fill="#707070"/><polygon points="-15,39 6,39 6,53 -15,53" fill="#141414"/><polyline points="40,28 42,42 30,52 22,54" fill="none" stroke="#383838" stroke-width="9" stroke-linecap="round" stroke-linejoin="round"/><polygon points="-15,72 8,72 8,103 -15,103" fill="#292929"/><polygon points="140,95 192,86 192,335 118,335 120,283 135,276 170,250 172,200 165,160 156,140 145,110" fill="#141414"/><polygon points="-15,250 16,262 20,280 40,288 91,290 91,335 -15,335" fill="#141414"/><polyline points="40,280 20,292 2,306" fill="none" stroke="#6b6b6b" stroke-width="11" stroke-linecap="round" stroke-linejoin="round"/><polyline points="108,300 108,335" fill="none" stroke="#242424" stroke-width="5" stroke-linecap="round" stroke-linejoin="round"/><polygon points="45,40 60,26 100,22 125,28 137,62 146,103 156,144 164,185 170,226 166,250 150,262 100,272 40,262 22,200 20,100 28,62" fill="#949494" stroke="#949494" stroke-width="4" stroke-linejoin="round"/><ellipse cx="85" cy="108" rx="48" ry="80" fill="#a1a1a1"/><ellipse cx="97" cy="150" rx="26" ry="28" fill="#a8a8a8"/><ellipse cx="110" cy="219" rx="66" ry="44" fill="#a3a3a3" transform="rotate(-18 110 219)"/><ellipse cx="110" cy="219" rx="60" ry="37" fill="#bdbdbd" transform="rotate(-18 110 219)"/><ellipse cx="114" cy="222" rx="46" ry="27" fill="#dbdbdb" transform="rotate(-18 114 222)"/><ellipse cx="118" cy="223" rx="34" ry="18" fill="#fafafa" transform="rotate(-18 118 223)"/><ellipse cx="73" cy="278" rx="15" ry="6" fill="#b8b8b8"/></g></svg>
<svg x="1508" y="505" width="171" height="319" viewBox="0 0 171 319" overflow="hidden"><g filter="url(#th1)"><rect x="-20" y="-20" width="211" height="359" fill="#141414"/><rect x="-15" y="-15" width="201" height="349" fill="#666666"/><ellipse cx="51" cy="33" rx="7" ry="8" fill="#454545"/><ellipse cx="163" cy="28" rx="8" ry="9" fill="#454545"/><polygon points="-15,45 40,60 62,100 62,140 40,160 -15,170" fill="#4c4c4c"/><polygon points="-15,54 41,82 62,96 57,120 51,137 30,148 14,160 6,225 -15,230" fill="#141414"/><g filter="url(#soft4)"><polygon points="-15,258 186,258 186,300 -15,300" fill="#878787"/><polygon points="-15,230 82,230 90,268 -15,272" fill="#ababab"/><polygon points="79,300 103,300 103,334 79,334" fill="#757575"/><polygon points="149,279 167,279 167,334 149,334" fill="#757575"/></g><polygon points="-15,307 10,298 18,288 26,281 32,284 44,296 60,304 72,308 80,334 -15,334" fill="#141414"/><polygon points="103,334 106,311 127,301 147,295 148,334" fill="#141414"/><polygon points="167,292 186,292 186,334 167,334" fill="#333333"/><polygon points="92,12 139,12 143,20 147,51 155,82 163,112 186,143 186,163 186,266 100,272 60,262 20,245 5,230 8,185 20,160 40,150 51,143 61,123 67,92 74,61 82,41 92,16" fill="#999999" stroke="#999999" stroke-width="9" stroke-linejoin="round"/><polygon points="92,12 139,12 143,20 147,51 155,82 163,112 186,143 186,163 186,266 100,272 60,262 20,245 5,230 8,185 20,160 40,150 51,143 61,123 67,92 74,61 82,41 92,16" fill="#bdbdbd"/><g filter="url(#soft3)"><ellipse cx="45" cy="210" rx="38" ry="52" fill="#8f8f8f"/><ellipse cx="60" cy="228" rx="20" ry="24" fill="#878787"/></g><g filter="url(#soft6)"><ellipse cx="114" cy="50" rx="26" ry="32" fill="#cccccc"/><ellipse cx="108" cy="140" rx="34" ry="55" fill="#c7c7c7"/></g><g filter="url(#soft5)"><polygon points="90,256 186,252 186,286 90,286" fill="#9e9e9e"/></g></g></svg>
<svg x="1688" y="505" width="181" height="319" viewBox="0 0 181 319" overflow="hidden"><g filter="url(#th1)"><rect x="-20" y="-20" width="221" height="359" fill="#141414"/><rect x="-15" y="-15" width="211" height="349" fill="#666666"/><polygon points="-15,44 32,44 32,80 -15,80" fill="#383838"/><polygon points="32,36 96,36 96,108 32,108" fill="#525252"/><polygon points="-15,70 30,80 56,108 35,137 16,169 8,209 13,263 29,297 56,334 -15,334" fill="#141414"/><polygon points="170,80 196,80 196,334 160,334" fill="#707070"/><polygon points="123,20 150,14 174,40 196,102 178,163 170,225 163,286 159,334 56,334 29,297 13,263 8,209 16,169 35,137 56,108 92,61" fill="#919191"/><polyline points="170,20 160,30 160,50 172,62" fill="none" stroke="#2b2b2b" stroke-width="6" stroke-linecap="round" stroke-linejoin="round"/><ellipse cx="70" cy="150" rx="35" ry="60" fill="#a1a1a1" transform="rotate(30 70 150)"/><ellipse cx="50" cy="228" rx="44" ry="74" fill="#bdbdbd"/><ellipse cx="45" cy="232" rx="34" ry="62" fill="#d9d9d9"/><ellipse cx="52" cy="238" rx="28" ry="33" fill="#f7f7f7"/><ellipse cx="26" cy="181" rx="11" ry="12" fill="#e8e8e8"/><ellipse cx="37" cy="287" rx="12" ry="14" fill="#e6e6e6"/><polygon points="100,312 115,312 115,334 100,334" fill="#474747"/></g></svg>
<svg x="1113" y="1111" width="184" height="381" viewBox="0 0 184 381" overflow="hidden"><g filter="url(#th1)"><rect x="-20" y="-20" width="224" height="421" fill="#141414"/><rect x="-15" y="-15" width="214" height="411" fill="#5c5c5c"/><polygon points="-15,-15 20,-15 20,396 -15,396" fill="#303030"/><ellipse cx="5" cy="18" rx="6" ry="16" fill="#0f0f0f"/><ellipse cx="30" cy="30" rx="7" ry="6" fill="#141414"/><polygon points="20,-15 146,-15 146,20 20,20" fill="#4a4a4a"/><ellipse cx="150" cy="41" rx="8" ry="9" fill="#121212"/><polygon points="158,-15 199,-15 199,85 158,85" fill="#787878"/><polygon points="166,44 199,44 199,73 166,73" fill="#8c8c8c"/><polygon points="152,86 199,86 199,317 162,317" fill="#454545"/><polygon points="45,8 130,8 150,60 165,150 178,250 175,300 150,330 100,340 20,345 -15,330 5,240 15,100 30,40" fill="#6b6b6b" stroke="#6b6b6b" stroke-width="4" stroke-linejoin="round"/><polygon points="63,17 114,17 119,40 130,65 140,91 150,142 165,192 170,243 173,282 163,307 140,315 110,317 97,305 40,300 22,300 14,280 8,243 7,205 17,167 24,130 30,91 45,60 58,34" fill="#999999" stroke="#999999" stroke-width="9" stroke-linejoin="round"/><polygon points="63,17 114,17 119,40 130,65 140,91 150,142 165,192 170,243 173,282 163,307 140,315 110,317 97,305 40,300 22,300 14,280 8,243 7,205 17,167 24,130 30,91 45,60 58,34" fill="#bdbdbd"/><g filter="url(#soft6)"><ellipse cx="52" cy="92" rx="34" ry="36" fill="#a3a3a3"/><ellipse cx="80" cy="40" rx="22" ry="16" fill="#a8a8a8"/><ellipse cx="120" cy="170" rx="30" ry="50" fill="#c7c7c7"/></g><g filter="url(#soft3)"><ellipse cx="30" cy="224" rx="28" ry="34" fill="#a6a6a6"/><ellipse cx="63" cy="282" rx="37" ry="50" fill="#828282"/><ellipse cx="40" cy="300" rx="32" ry="40" fill="#858585"/></g><g filter="url(#soft3)"><polygon points="10,315 100,315 97,345 60,356 10,352" fill="#808080"/></g><g filter="url(#soft2)"><polygon points="99,396 110,345 125,325 141,316 150,322 158,345 174,396" fill="#363636"/><polygon points="-15,362 75,358 78,396 -15,396" fill="#3d3d3d"/></g></g></svg>
<svg x="1303" y="1111" width="177" height="381" viewBox="0 0 177 381" overflow="hidden"><g filter="url(#th1)"><rect x="-20" y="-20" width="217" height="421" fill="#141414"/><rect x="-15" y="-15" width="207" height="411" fill="#6e6e6e"/><polygon points="-15,-15 29,-15 29,37 56,40 59,53 41,78 39,116 31,154 18,192 3,243 -15,256" fill="#0f0f0f"/><polygon points="29,-15 62,-15 62,40 29,37" fill="#545454"/><polyline points="-15,120 40,120" fill="none" stroke="#474747" stroke-width="3" stroke-linecap="round" stroke-linejoin="round"/><polyline points="32,50 30,170" fill="none" stroke="#424242" stroke-width="3" stroke-linecap="round" stroke-linejoin="round"/><polygon points="150,-15 192,-15 192,41 150,41" fill="#545454"/><polygon points="151,41 192,41 192,128 170,122 168,98 158,73 148,54" fill="#0f0f0f"/><polygon points="170,130 192,128 192,396 170,396" fill="#5c5c5c"/><g filter="url(#soft4)"><ellipse cx="78" cy="262" rx="96" ry="112" fill="#8f8f8f"/></g><ellipse cx="72" cy="270" rx="82" ry="90" fill="#a8a8a8"/><ellipse cx="70" cy="272" rx="76" ry="82" fill="#bdbdbd"/><g filter="url(#soft4)"><ellipse cx="64" cy="252" rx="50" ry="38" fill="#d1d1d1"/><ellipse cx="58" cy="246" rx="28" ry="22" fill="#dedede"/></g><ellipse cx="47" cy="362" rx="8" ry="6" fill="#141414"/><ellipse cx="138" cy="358" rx="15" ry="10" fill="#141414"/><polygon points="-15,372 192,372 192,396 -15,396" fill="#4f4f4f"/></g></svg>
<svg x="1506" y="1111" width="172" height="380" viewBox="0 0 172 380" overflow="hidden"><g filter="url(#th0)"><rect x="-20" y="-20" width="212" height="420" fill="#141414"/><rect x="-15" y="-15" width="202" height="410" fill="#141414"/><polyline points="7,14 42,154" fill="none" stroke="#212121" stroke-width="3" stroke-linecap="round" stroke-linejoin="round"/><polyline points="9.8,11.9 30.8,-15" fill="none" stroke="#787878" stroke-width="5" stroke-linecap="round" stroke-linejoin="round"/><polyline points="21,49 95,2.8" fill="none" stroke="#787878" stroke-width="5" stroke-linecap="round" stroke-linejoin="round"/><ellipse cx="95" cy="21" rx="5.5" ry="16" fill="#6b6b6b"/><polyline points="-15,58.8 12.6,53" fill="none" stroke="#787878" stroke-width="5" stroke-linecap="round" stroke-linejoin="round"/><polyline points="32,88 105,39" fill="none" stroke="#787878" stroke-width="5" stroke-linecap="round" stroke-linejoin="round"/><polyline points="119,32 132,25" fill="none" stroke="#787878" stroke-width="4.5" stroke-linecap="round" stroke-linejoin="round"/><polyline points="-15,108 23.8,92" fill="none" stroke="#787878" stroke-width="5" stroke-linecap="round" stroke-linejoin="round"/><polyline points="45,127 80,107" fill="none" stroke="#787878" stroke-width="5" stroke-linecap="round" stroke-linejoin="round"/><polyline points="-15,155 35,133" fill="none" stroke="#787878" stroke-width="5" stroke-linecap="round" stroke-linejoin="round"/><polyline points="-15,206 39,181" fill="none" stroke="#787878" stroke-width="5" stroke-linecap="round" stroke-linejoin="round"/><polyline points="-15,262 20,250" fill="none" stroke="#737373" stroke-width="5" stroke-linecap="round" stroke-linejoin="round"/><polyline points="137,205 187,187" fill="none" stroke="#787878" stroke-width="5" stroke-linecap="round" stroke-linejoin="round"/><polyline points="137,266 187,248" fill="none" stroke="#787878" stroke-width="5" stroke-linecap="round" stroke-linejoin="round"/><polyline points="126,327 187,302" fill="none" stroke="#787878" stroke-width="5" stroke-linecap="round" stroke-linejoin="round"/><polyline points="116,371 187,345" fill="none" stroke="#787878" stroke-width="5" stroke-linecap="round" stroke-linejoin="round"/><polyline points="152,164 187,223" fill="none" stroke="#808080" stroke-width="4.5" stroke-linecap="round" stroke-linejoin="round"/><polygon points="140,282 187,272 187,350 136,362" fill="#4f4f4f"/><polygon points="160,76 187,76 187,131 160,131" fill="#787878"/><polygon points="158,-15 187,-15 187,22 160,22" fill="#333333"/><polygon points="112,-15 158,-15 160,30 118,32" fill="#757575"/><ellipse cx="142" cy="16" rx="10" ry="9" fill="#8f8f8f"/><polygon points="116,24 140,20 160,26 187,40 187,60 166,98 159,134 151,159 139,195 134,244 132,293 127,341 112,366 98,376 61,376 37,366 15,341 5,305 7,268 15,244 29,220 38,196 45,175 53,154 63,133 76,112 84,91 91,70 98,56 119,49 126,38" fill="#707070" stroke="#707070" stroke-width="6" stroke-linejoin="round"/><polygon points="116,24 140,20 160,26 187,40 187,60 166,98 159,134 151,159 139,195 134,244 132,293 127,341 112,366 98,376 61,376 37,366 15,341 5,305 7,268 15,244 29,220 38,196 45,175 53,154 63,133 76,112 84,91 91,70 98,56 119,49 126,38" fill="#9e9e9e" stroke="#9e9e9e" stroke-width="3" stroke-linejoin="round"/><polygon points="116,24 140,20 160,26 187,40 187,60 166,98 159,134 151,159 139,195 134,244 132,293 127,341 112,366 98,376 61,376 37,366 15,341 5,305 7,268 15,244 29,220 38,196 45,175 53,154 63,133 76,112 84,91 91,70 98,56 119,49 126,38" fill="#bdbdbd"/><g filter="url(#soft5)"><ellipse cx="140" cy="72" rx="18" ry="32" fill="#c9c9c9"/><ellipse cx="92" cy="312" rx="36" ry="68" fill="#a3a3a3"/></g><g filter="url(#soft3)"><ellipse cx="36" cy="312" rx="32" ry="60" fill="#858585"/></g><ellipse cx="100" cy="366" rx="8" ry="8" fill="#b2b2b2"/></g></svg>
<svg x="1688" y="1111" width="179" height="381" viewBox="0 0 179 381" overflow="hidden"><g filter="url(#th1)"><rect x="-20" y="-20" width="219" height="421" fill="#141414"/><rect x="-15" y="-15" width="209" height="411" fill="#737373"/><polygon points="-15,-15 24,-15 24,20 -15,20" fill="#383838"/><polygon points="-15,20 16,20 16,86 -15,86" fill="#141414"/><polygon points="12,-15 73,-15 73,18 12,18" fill="#525252"/><polyline points="57,14 68,22 70,44 60,56" fill="none" stroke="#424242" stroke-width="8" stroke-linecap="round" stroke-linejoin="round"/><polygon points="146,-15 194,-15 194,98 150,98" fill="#545454"/><ellipse cx="168" cy="30" rx="10" ry="16" fill="#474747"/><polygon points="-15,86 20,86 20,327 -15,327" fill="#5e5e5e"/><polygon points="158,144 194,140 194,346 146,346 160,320 168,280 170,240 169,195 165,170" fill="#141414"/><polygon points="77,332 100,330 141,340 135,396 77,396" fill="#141414"/><polygon points="-15,327 31,327 31,360 -15,360" fill="#424242"/><polyline points="5,352 25,354" fill="none" stroke="#1a1a1a" stroke-width="3" stroke-linecap="round" stroke-linejoin="round"/><g filter="url(#soft4)"><ellipse cx="96" cy="175" rx="66" ry="150" fill="#8a8a8a"/><ellipse cx="95" cy="30" rx="32" ry="30" fill="#8a8a8a"/></g><ellipse cx="106" cy="214" rx="72" ry="72" fill="#9e9e9e" transform="rotate(-35 106 214)"/><ellipse cx="107" cy="213" rx="63" ry="56" fill="#bdbdbd" transform="rotate(-35 107 213)"/><ellipse cx="110" cy="212" rx="52" ry="32" fill="#dbdbdb" transform="rotate(-38 110 212)"/><ellipse cx="137" cy="196" rx="25" ry="27" fill="#ebebeb"/><ellipse cx="80" cy="241" rx="24" ry="21" fill="#e6e6e6"/><ellipse cx="142" cy="194" rx="14" ry="15" fill="#fafafa"/></g></svg>
<defs><filter id="soft2" x="-50%" y="-50%" width="200%" height="200%" color-interpolation-filters="sRGB"><feGaussianBlur stdDeviation="2"/></filter><filter id="soft3" x="-50%" y="-50%" width="200%" height="200%" color-interpolation-filters="sRGB"><feGaussianBlur stdDeviation="3"/></filter><filter id="soft4" x="-50%" y="-50%" width="200%" height="200%" color-interpolation-filters="sRGB"><feGaussianBlur stdDeviation="4"/></filter><filter id="soft5" x="-50%" y="-50%" width="200%" height="200%" color-interpolation-filters="sRGB"><feGaussianBlur stdDeviation="5"/></filter><filter id="soft6" x="-50%" y="-50%" width="200%" height="200%" color-interpolation-filters="sRGB"><feGaussianBlur stdDeviation="6"/></filter></defs>
</svg>
</body></html>
